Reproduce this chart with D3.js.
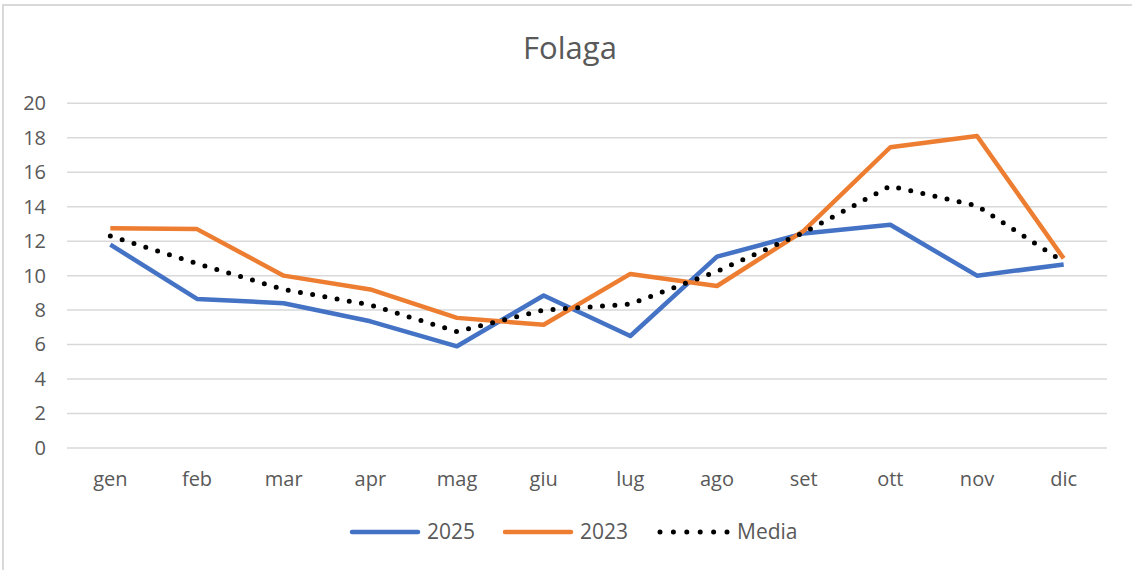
<!DOCTYPE html>
<html>
<head>
<meta charset="utf-8">
<script src="https://d3js.org/d3.v7.min.js"></script>
<style>
  body { margin: 0; background: #fff; }
  text { font-family: "Open Sans", sans-serif; fill: #595959; }
</style>
</head>
<body>
<div id="chart"></div>
<script>
// data
var months = ["gen", "feb", "mar", "apr", "mag", "giu", "lug", "ago", "set", "ott", "nov", "dic"];
var s2025 = [11.8, 8.65, 8.4, 7.35, 5.9, 8.85, 6.5, 11.1, 12.45, 12.95, 10.0, 10.65];
var s2023 = [12.75, 12.7, 10.0, 9.2, 7.55, 7.15, 10.1, 9.4, 12.6, 17.45, 18.1, 11.0];
var media = [12.3, 10.7, 9.2, 8.3, 6.75, 8.0, 8.35, 10.25, 12.5, 15.2, 14.05, 10.8];
var yTicks = [0, 2, 4, 6, 8, 10, 12, 14, 16, 18, 20];

var W = 1132, H = 570;

var svg = d3.select("#chart").append("svg")
    .attr("width", W)
    .attr("height", H);

// chart frame (only top and left edges show in the picture)
svg.append("line").attr("x1", 3).attr("x2", W).attr("y1", 5).attr("y2", 5)
    .attr("stroke", "#d9d9d9").attr("stroke-width", 2);
svg.append("line").attr("x1", 3).attr("x2", 3).attr("y1", 4).attr("y2", H)
    .attr("stroke", "#d9d9d9").attr("stroke-width", 2);

// title
svg.append("text")
    .attr("x", 570).attr("y", 59)
    .attr("text-anchor", "middle")
    .style("font-size", "31px")
    .text("Folaga");

var x = d3.scaleBand().domain(months).range([67, 1107]);
var y = d3.scaleLinear().domain([0, 20]).range([448, 103.3]);

// gridlines
svg.append("g")
  .selectAll("line")
  .data(yTicks)
  .enter()
  .append("line")
    .attr("x1", 67).attr("x2", 1107)
    .attr("y1", function(d) { return y(d); })
    .attr("y2", function(d) { return y(d); })
    .attr("stroke", "#d9d9d9")
    .attr("stroke-width", 1.5);

// y axis labels
var yAxis = svg.append("g")
    .attr("transform", "translate(46,0)")
    .call(d3.axisLeft(y).tickValues(yTicks).tickSize(0).tickPadding(0));
yAxis.select(".domain").remove();
yAxis.selectAll("text").style("font-size", "20px").attr("fill", "#595959");

// x axis labels
var xAxis = svg.append("g")
    .attr("transform", "translate(0,472)")
    .call(d3.axisBottom(x).tickSize(0).tickPadding(0));
xAxis.select(".domain").remove();
xAxis.selectAll("text").style("font-size", "20px").attr("fill", "#595959");

var line = d3.line()
    .x(function(d, i) { return x(months[i]) + x.bandwidth() / 2; })
    .y(function(d) { return y(d); });

var series = [
  {name: "2025", values: s2025, color: "#4472C4", dash: null, width: 4.5},
  {name: "2023", values: s2023, color: "#ED7D31", dash: null, width: 4.5},
  {name: "Media", values: media, color: "#000000", dash: "0 12.4", width: 5}
];

series.forEach(function(s) {
  svg.append("path")
      .datum(s.values)
      .attr("d", line)
      .attr("fill", "none")
      .attr("stroke", s.color)
      .attr("stroke-width", s.width)
      .attr("stroke-linejoin", "round")
      .attr("stroke-linecap", s.dash ? "round" : "butt")
      .attr("stroke-dasharray", s.dash);
});

// legend
var legendPos = [352, 505, 660];
var leg = svg.append("g").selectAll("g")
    .data(series)
    .enter()
    .append("g")
    .attr("transform", function(d, i) { return "translate(" + legendPos[i] + ",532)"; });

leg.append("line")
    .attr("x1", 0)
    .attr("x2", function(d) { return d.dash ? 67 : 66; })
    .attr("stroke", function(d) { return d.color; })
    .attr("stroke-width", function(d) { return d.width; })
    .attr("stroke-linecap", "round")
    .attr("stroke-dasharray", function(d) { return d.dash ? "0 13.4" : null; });

leg.append("text")
    .attr("x", function(d) { return d.dash ? 77 : 75; })
    .attr("y", 7)
    .style("font-size", "21px")
    .text(function(d) { return d.name; });
</script>
</body>
</html>
